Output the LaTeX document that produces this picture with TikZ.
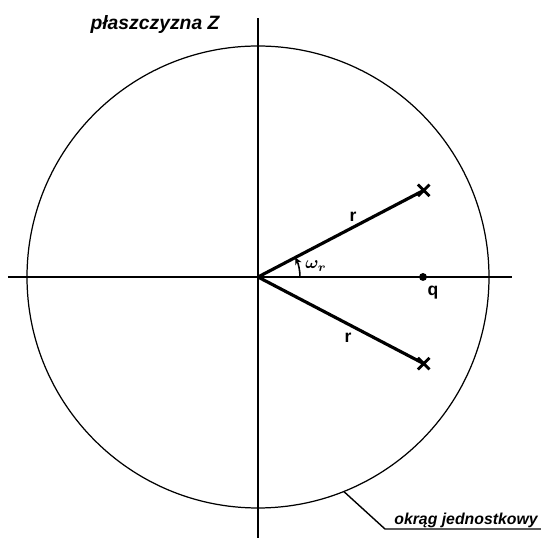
\documentclass[tikz,border=0pt]{standalone}
\usepackage{bm}
\usepackage{fontspec}
\setsansfont{Liberation Sans}
\usetikzlibrary{arrows.meta,positioning,calc,shapes.misc}
\tikzset{
  axisline/.style = {line width=0.8pt},
  unitcirc/.style = {line width=0.7pt},
  radline/.style  = {line width=1.8pt},
  pole/.style     = {draw, cross out, line width=1.6pt, inner sep=0pt,
                     minimum size=5pt},
  zero/.style     = {fill, circle, inner sep=0pt, minimum size=4.5pt},
  hand/.style     = {font=\sffamily\bfseries\itshape, inner sep=1pt},
  handsmall/.style = {inner sep=1pt, font=\sffamily\bfseries\fontsize{10}{11}\selectfont},
}
\begin{document}
\begin{tikzpicture}[x=0.02cm,y=0.02cm]
\useasboundingbox (-258,-263) rectangle (283,277);
\coordinate (O) at (0,0);
% unit circle and axes
\draw[unitcirc] (O) circle (231);
\coordinate (xl) at (-250,0);
\coordinate (xr) at (254,0);
\coordinate (yb) at (0,-261);
\coordinate (yt) at (0,259);
\draw[axisline] (xl) -- (xr);
\draw[axisline] (yb) -- (yt);
% poles and zero
\node[pole] (p1) at (27.6:187) {};
\node[pole] (p2) at (-27.6:187) {};
\draw[radline] (O) -- (p1.center);
\draw[radline] (O) -- (p2.center);
\node[zero] (q) at (165,0) {};
\node[handsmall] (qlab) at (175,-16) {q};
\node[handsmall] (r1) at (95,60) {r};
\node[handsmall] (r2) at (90,-61) {r};
% angle
\draw[line width=0.9pt,-{Stealth[length=4pt,width=4pt]}] (42,0) arc[start angle=0, end angle=27.6, radius=42];
\node (om) at (58,11) {$\bm{\omega_r}$};
% labels
\node[hand,font=\sffamily\bfseries\itshape\fontsize{11}{12}\selectfont] (title) at (-103,252) {płaszczyzna Z};
\coordinate (lead1) at (-68.2:231);
\coordinate (lead2) at (127,-252);
\coordinate (lead3) at (283,-252);
\draw[axisline] (lead1) -- (lead2) -- (lead3);
\node[hand,font=\sffamily\bfseries\itshape\fontsize{9}{10}\selectfont,anchor=base] (circlab) at (208,-248) {okrąg jednostkowy};
\end{tikzpicture}
\end{document}
